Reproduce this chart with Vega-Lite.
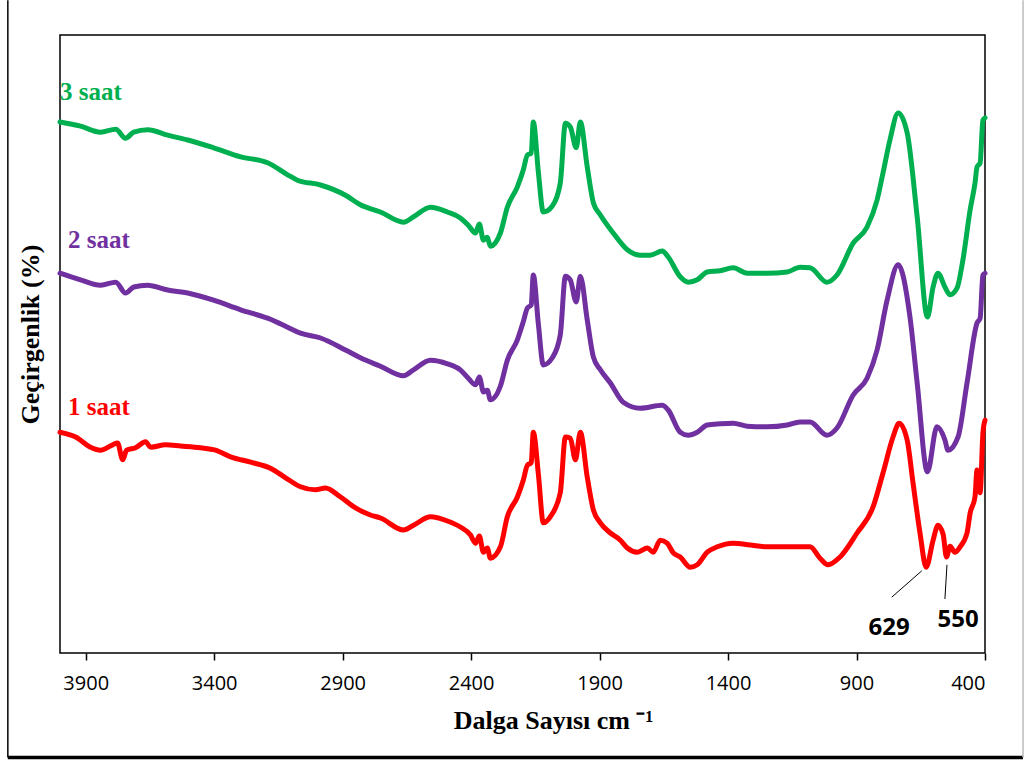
{
  "$schema": "https://vega.github.io/schema/vega-lite/v6.json",
  "width": 925,
  "height": 618,
  "autosize": {"type": "none"},
  "padding": {"left": 60, "top": 35, "right": 40, "bottom": 109},
  "background": "white",
  "config": {"view": {"stroke": "#000000", "strokeWidth": 1.5}},
  "datasets": {
    "spectra": [
      {"series": "1 saat", "w": 4000, "T": 36.8}, {"series": "1 saat", "w": 3939, "T": 36.0}, {"series": "1 saat", "w": 3881, "T": 34.3}, {"series": "1 saat", "w": 3842, "T": 33.8}, {"series": "1 saat", "w": 3795, "T": 34.7}, {"series": "1 saat", "w": 3776, "T": 35.0}, {"series": "1 saat", "w": 3756, "T": 32.2}, {"series": "1 saat", "w": 3741, "T": 33.8}, {"series": "1 saat", "w": 3706, "T": 34.2}, {"series": "1 saat", "w": 3667, "T": 35.2}, {"series": "1 saat", "w": 3647, "T": 34.3}, {"series": "1 saat", "w": 3589, "T": 34.7}, {"series": "1 saat", "w": 3531, "T": 34.5}, {"series": "1 saat", "w": 3453, "T": 34.2}, {"series": "1 saat", "w": 3395, "T": 33.8}, {"series": "1 saat", "w": 3336, "T": 32.7}, {"series": "1 saat", "w": 3258, "T": 31.8}, {"series": "1 saat", "w": 3181, "T": 30.8}, {"series": "1 saat", "w": 3122, "T": 29.2}, {"series": "1 saat", "w": 3064, "T": 27.7}, {"series": "1 saat", "w": 3006, "T": 27.2}, {"series": "1 saat", "w": 2967, "T": 27.5}, {"series": "1 saat", "w": 2908, "T": 26.0}, {"series": "1 saat", "w": 2850, "T": 24.2}, {"series": "1 saat", "w": 2792, "T": 23.0}, {"series": "1 saat", "w": 2753, "T": 22.5}, {"series": "1 saat", "w": 2663, "T": 20.5}, {"series": "1 saat", "w": 2624, "T": 21.3}, {"series": "1 saat", "w": 2558, "T": 22.7}, {"series": "1 saat", "w": 2492, "T": 22.0}, {"series": "1 saat", "w": 2442, "T": 21.0}, {"series": "1 saat", "w": 2403, "T": 19.7}, {"series": "1 saat", "w": 2383, "T": 18.3}, {"series": "1 saat", "w": 2368, "T": 19.5}, {"series": "1 saat", "w": 2352, "T": 16.8}, {"series": "1 saat", "w": 2337, "T": 17.5}, {"series": "1 saat", "w": 2325, "T": 15.8}, {"series": "1 saat", "w": 2286, "T": 17.7}, {"series": "1 saat", "w": 2259, "T": 22.7}, {"series": "1 saat", "w": 2220, "T": 26.0}, {"series": "1 saat", "w": 2197, "T": 28.8}, {"series": "1 saat", "w": 2181, "T": 31.3}, {"series": "1 saat", "w": 2166, "T": 31.7}, {"series": "1 saat", "w": 2158, "T": 36.8}, {"series": "1 saat", "w": 2138, "T": 29.7}, {"series": "1 saat", "w": 2119, "T": 21.7}, {"series": "1 saat", "w": 2092, "T": 22.7}, {"series": "1 saat", "w": 2053, "T": 26.7}, {"series": "1 saat", "w": 2033, "T": 36.0}, {"series": "1 saat", "w": 2014, "T": 35.8}, {"series": "1 saat", "w": 1994, "T": 32.2}, {"series": "1 saat", "w": 1975, "T": 36.8}, {"series": "1 saat", "w": 1948, "T": 29.3}, {"series": "1 saat", "w": 1924, "T": 23.8}, {"series": "1 saat", "w": 1897, "T": 21.7}, {"series": "1 saat", "w": 1858, "T": 20.0}, {"series": "1 saat", "w": 1819, "T": 18.8}, {"series": "1 saat", "w": 1792, "T": 17.5}, {"series": "1 saat", "w": 1753, "T": 16.8}, {"series": "1 saat", "w": 1714, "T": 17.5}, {"series": "1 saat", "w": 1691, "T": 16.8}, {"series": "1 saat", "w": 1664, "T": 18.8}, {"series": "1 saat", "w": 1637, "T": 18.3}, {"series": "1 saat", "w": 1613, "T": 16.7}, {"series": "1 saat", "w": 1586, "T": 16.0}, {"series": "1 saat", "w": 1547, "T": 14.3}, {"series": "1 saat", "w": 1520, "T": 14.7}, {"series": "1 saat", "w": 1481, "T": 16.8}, {"series": "1 saat", "w": 1442, "T": 17.7}, {"series": "1 saat", "w": 1380, "T": 18.3}, {"series": "1 saat", "w": 1314, "T": 18.0}, {"series": "1 saat", "w": 1248, "T": 17.7}, {"series": "1 saat", "w": 1186, "T": 17.7}, {"series": "1 saat", "w": 1120, "T": 17.7}, {"series": "1 saat", "w": 1081, "T": 17.7}, {"series": "1 saat", "w": 1042, "T": 15.8}, {"series": "1 saat", "w": 1011, "T": 14.7}, {"series": "1 saat", "w": 964, "T": 16.0}, {"series": "1 saat", "w": 898, "T": 20.0}, {"series": "1 saat", "w": 836, "T": 24.3}, {"series": "1 saat", "w": 797, "T": 30.0}, {"series": "1 saat", "w": 758, "T": 36.0}, {"series": "1 saat", "w": 734, "T": 38.3}, {"series": "1 saat", "w": 703, "T": 35.5}, {"series": "1 saat", "w": 680, "T": 28.3}, {"series": "1 saat", "w": 653, "T": 20.0}, {"series": "1 saat", "w": 629, "T": 14.3}, {"series": "1 saat", "w": 602, "T": 18.8}, {"series": "1 saat", "w": 583, "T": 21.3}, {"series": "1 saat", "w": 563, "T": 19.8}, {"series": "1 saat", "w": 550, "T": 16.0}, {"series": "1 saat", "w": 536, "T": 17.8}, {"series": "1 saat", "w": 517, "T": 16.8}, {"series": "1 saat", "w": 497, "T": 17.7}, {"series": "1 saat", "w": 470, "T": 20.0}, {"series": "1 saat", "w": 458, "T": 23.3}, {"series": "1 saat", "w": 439, "T": 26.0}, {"series": "1 saat", "w": 431, "T": 30.5}, {"series": "1 saat", "w": 419, "T": 26.7}, {"series": "1 saat", "w": 408, "T": 36.7}, {"series": "1 saat", "w": 400, "T": 38.8},

      {"series": "2 saat", "w": 4000, "T": 63.3}, {"series": "2 saat", "w": 3920, "T": 62.2}, {"series": "2 saat", "w": 3842, "T": 61.3}, {"series": "2 saat", "w": 3783, "T": 61.8}, {"series": "2 saat", "w": 3745, "T": 60.0}, {"series": "2 saat", "w": 3713, "T": 61.0}, {"series": "2 saat", "w": 3659, "T": 61.3}, {"series": "2 saat", "w": 3581, "T": 60.5}, {"series": "2 saat", "w": 3503, "T": 60.0}, {"series": "2 saat", "w": 3402, "T": 58.8}, {"series": "2 saat", "w": 3297, "T": 57.2}, {"series": "2 saat", "w": 3192, "T": 55.8}, {"series": "2 saat", "w": 3114, "T": 54.3}, {"series": "2 saat", "w": 3064, "T": 53.3}, {"series": "2 saat", "w": 2986, "T": 52.5}, {"series": "2 saat", "w": 2889, "T": 50.5}, {"series": "2 saat", "w": 2831, "T": 49.2}, {"series": "2 saat", "w": 2753, "T": 47.8}, {"series": "2 saat", "w": 2663, "T": 46.2}, {"series": "2 saat", "w": 2624, "T": 47.2}, {"series": "2 saat", "w": 2558, "T": 48.8}, {"series": "2 saat", "w": 2492, "T": 48.2}, {"series": "2 saat", "w": 2442, "T": 47.2}, {"series": "2 saat", "w": 2411, "T": 45.8}, {"series": "2 saat", "w": 2383, "T": 44.7}, {"series": "2 saat", "w": 2368, "T": 46.0}, {"series": "2 saat", "w": 2352, "T": 43.5}, {"series": "2 saat", "w": 2337, "T": 43.8}, {"series": "2 saat", "w": 2325, "T": 42.2}, {"series": "2 saat", "w": 2286, "T": 44.5}, {"series": "2 saat", "w": 2259, "T": 48.8}, {"series": "2 saat", "w": 2220, "T": 52.2}, {"series": "2 saat", "w": 2197, "T": 55.2}, {"series": "2 saat", "w": 2181, "T": 57.5}, {"series": "2 saat", "w": 2166, "T": 58.0}, {"series": "2 saat", "w": 2158, "T": 63.0}, {"series": "2 saat", "w": 2138, "T": 54.7}, {"series": "2 saat", "w": 2119, "T": 48.0}, {"series": "2 saat", "w": 2084, "T": 49.2}, {"series": "2 saat", "w": 2053, "T": 53.0}, {"series": "2 saat", "w": 2033, "T": 62.8}, {"series": "2 saat", "w": 2014, "T": 62.2}, {"series": "2 saat", "w": 1991, "T": 58.5}, {"series": "2 saat", "w": 1975, "T": 62.8}, {"series": "2 saat", "w": 1948, "T": 55.5}, {"series": "2 saat", "w": 1924, "T": 49.3}, {"series": "2 saat", "w": 1897, "T": 47.2}, {"series": "2 saat", "w": 1858, "T": 45.0}, {"series": "2 saat", "w": 1808, "T": 41.8}, {"series": "2 saat", "w": 1742, "T": 40.8}, {"series": "2 saat", "w": 1656, "T": 41.3}, {"series": "2 saat", "w": 1633, "T": 40.5}, {"series": "2 saat", "w": 1586, "T": 36.8}, {"series": "2 saat", "w": 1555, "T": 36.3}, {"series": "2 saat", "w": 1520, "T": 36.8}, {"series": "2 saat", "w": 1481, "T": 38.0}, {"series": "2 saat", "w": 1431, "T": 38.2}, {"series": "2 saat", "w": 1380, "T": 38.3}, {"series": "2 saat", "w": 1326, "T": 37.8}, {"series": "2 saat", "w": 1248, "T": 37.7}, {"series": "2 saat", "w": 1170, "T": 38.0}, {"series": "2 saat", "w": 1120, "T": 38.5}, {"series": "2 saat", "w": 1081, "T": 38.5}, {"series": "2 saat", "w": 1015, "T": 36.3}, {"series": "2 saat", "w": 976, "T": 37.5}, {"series": "2 saat", "w": 913, "T": 43.0}, {"series": "2 saat", "w": 859, "T": 45.8}, {"series": "2 saat", "w": 820, "T": 50.5}, {"series": "2 saat", "w": 781, "T": 58.8}, {"series": "2 saat", "w": 738, "T": 64.7}, {"series": "2 saat", "w": 692, "T": 56.0}, {"series": "2 saat", "w": 664, "T": 45.0}, {"series": "2 saat", "w": 624, "T": 30.2}, {"series": "2 saat", "w": 587, "T": 37.7}, {"series": "2 saat", "w": 556, "T": 35.5}, {"series": "2 saat", "w": 544, "T": 33.8}, {"series": "2 saat", "w": 505, "T": 36.0}, {"series": "2 saat", "w": 470, "T": 45.0}, {"series": "2 saat", "w": 431, "T": 55.0}, {"series": "2 saat", "w": 419, "T": 55.8}, {"series": "2 saat", "w": 408, "T": 63.0}, {"series": "2 saat", "w": 400, "T": 63.3},

      {"series": "3 saat", "w": 4000, "T": 88.5}, {"series": "3 saat", "w": 3920, "T": 87.8}, {"series": "3 saat", "w": 3842, "T": 86.8}, {"series": "3 saat", "w": 3783, "T": 87.3}, {"series": "3 saat", "w": 3745, "T": 85.8}, {"series": "3 saat", "w": 3713, "T": 86.8}, {"series": "3 saat", "w": 3659, "T": 87.2}, {"series": "3 saat", "w": 3581, "T": 86.3}, {"series": "3 saat", "w": 3503, "T": 85.5}, {"series": "3 saat", "w": 3402, "T": 84.2}, {"series": "3 saat", "w": 3297, "T": 82.7}, {"series": "3 saat", "w": 3192, "T": 81.7}, {"series": "3 saat", "w": 3114, "T": 79.7}, {"series": "3 saat", "w": 3076, "T": 78.8}, {"series": "3 saat", "w": 2986, "T": 78.0}, {"series": "3 saat", "w": 2889, "T": 76.3}, {"series": "3 saat", "w": 2831, "T": 74.7}, {"series": "3 saat", "w": 2753, "T": 73.5}, {"series": "3 saat", "w": 2663, "T": 71.8}, {"series": "3 saat", "w": 2624, "T": 72.7}, {"series": "3 saat", "w": 2558, "T": 74.3}, {"series": "3 saat", "w": 2492, "T": 73.5}, {"series": "3 saat", "w": 2442, "T": 72.5}, {"series": "3 saat", "w": 2411, "T": 71.3}, {"series": "3 saat", "w": 2383, "T": 70.0}, {"series": "3 saat", "w": 2368, "T": 71.5}, {"series": "3 saat", "w": 2352, "T": 68.8}, {"series": "3 saat", "w": 2337, "T": 69.3}, {"series": "3 saat", "w": 2325, "T": 67.8}, {"series": "3 saat", "w": 2286, "T": 70.0}, {"series": "3 saat", "w": 2259, "T": 74.3}, {"series": "3 saat", "w": 2220, "T": 77.7}, {"series": "3 saat", "w": 2197, "T": 80.5}, {"series": "3 saat", "w": 2181, "T": 83.0}, {"series": "3 saat", "w": 2166, "T": 83.3}, {"series": "3 saat", "w": 2158, "T": 88.5}, {"series": "3 saat", "w": 2138, "T": 80.0}, {"series": "3 saat", "w": 2119, "T": 73.5}, {"series": "3 saat", "w": 2084, "T": 74.5}, {"series": "3 saat", "w": 2053, "T": 78.3}, {"series": "3 saat", "w": 2033, "T": 88.3}, {"series": "3 saat", "w": 2014, "T": 87.7}, {"series": "3 saat", "w": 1991, "T": 84.2}, {"series": "3 saat", "w": 1975, "T": 88.5}, {"series": "3 saat", "w": 1948, "T": 81.0}, {"series": "3 saat", "w": 1924, "T": 75.0}, {"series": "3 saat", "w": 1897, "T": 73.0}, {"series": "3 saat", "w": 1847, "T": 70.0}, {"series": "3 saat", "w": 1792, "T": 67.2}, {"series": "3 saat", "w": 1742, "T": 66.3}, {"series": "3 saat", "w": 1703, "T": 66.3}, {"series": "3 saat", "w": 1656, "T": 67.0}, {"series": "3 saat", "w": 1633, "T": 66.0}, {"series": "3 saat", "w": 1586, "T": 62.7}, {"series": "3 saat", "w": 1555, "T": 61.8}, {"series": "3 saat", "w": 1520, "T": 62.2}, {"series": "3 saat", "w": 1481, "T": 63.5}, {"series": "3 saat", "w": 1431, "T": 63.7}, {"series": "3 saat", "w": 1380, "T": 64.2}, {"series": "3 saat", "w": 1326, "T": 63.3}, {"series": "3 saat", "w": 1248, "T": 63.3}, {"series": "3 saat", "w": 1170, "T": 63.5}, {"series": "3 saat", "w": 1120, "T": 64.3}, {"series": "3 saat", "w": 1081, "T": 64.2}, {"series": "3 saat", "w": 1015, "T": 61.8}, {"series": "3 saat", "w": 976, "T": 63.0}, {"series": "3 saat", "w": 913, "T": 68.3}, {"series": "3 saat", "w": 859, "T": 71.0}, {"series": "3 saat", "w": 820, "T": 75.5}, {"series": "3 saat", "w": 797, "T": 80.0}, {"series": "3 saat", "w": 770, "T": 85.5}, {"series": "3 saat", "w": 738, "T": 90.0}, {"series": "3 saat", "w": 703, "T": 86.7}, {"series": "3 saat", "w": 664, "T": 72.7}, {"series": "3 saat", "w": 624, "T": 56.0}, {"series": "3 saat", "w": 602, "T": 61.0}, {"series": "3 saat", "w": 583, "T": 63.3}, {"series": "3 saat", "w": 556, "T": 61.0}, {"series": "3 saat", "w": 536, "T": 59.7}, {"series": "3 saat", "w": 509, "T": 60.8}, {"series": "3 saat", "w": 486, "T": 65.5}, {"series": "3 saat", "w": 458, "T": 73.8}, {"series": "3 saat", "w": 439, "T": 78.3}, {"series": "3 saat", "w": 431, "T": 81.0}, {"series": "3 saat", "w": 419, "T": 81.7}, {"series": "3 saat", "w": 408, "T": 88.8}, {"series": "3 saat", "w": 400, "T": 89.2}
    ],
    "single": [{}]
  },
  "layer": [
    {
      "data": {"name": "spectra"},
      "mark": {"type": "line", "strokeWidth": 5, "interpolate": "monotone", "strokeJoin": "round", "strokeCap": "round"},
      "encoding": {
        "x": {
          "field": "w", "type": "quantitative",
          "scale": {"domain": [400, 4000], "reverse": true, "nice": false, "zero": false},
          "axis": {
            "title": "Dalga Sayısı cm ⁻¹",
            "values": [3900, 3400, 2900, 2400, 1900, 1400, 900, 400],
            "format": "d",
            "domain": false, "grid": false,
            "tickColor": "#000000", "tickSize": 7, "tickWidth": 1.5,
            "labelFont": "Open Sans", "labelFontSize": 20, "labelColor": "#000000", "labelPadding": 13,
            "titleFont": "Liberation Serif", "titleFontSize": 26, "titleFontWeight": "bold", "titleColor": "#000000",
            "titleX": 493, "titleY": 75, "titleAlign": "center", "titleBaseline": "alphabetic"
          }
        },
        "y": {
          "field": "T", "type": "quantitative",
          "scale": {"domain": [0, 103], "nice": false, "zero": false},
          "axis": {
            "title": "Geçirgenlik (%)",
            "labels": false, "ticks": false, "domain": false, "grid": false,
            "titleFont": "Liberation Serif", "titleFontSize": 26, "titleFontWeight": "bold", "titleColor": "#000000",
            "titleX": -30, "titleY": 299, "titleAngle": -90, "titleAlign": "center", "titleBaseline": "middle"
          }
        },
        "color": {
          "field": "series", "type": "nominal",
          "scale": {"domain": ["1 saat", "2 saat", "3 saat"], "range": ["#FF0000", "#7030A0", "#00B050"]},
          "legend": null
        }
      }
    },
    {
      "data": {"name": "spectra"},
      "transform": [{"filter": "datum.w === 4000 && datum.series === '3 saat'"}],
      "mark": {"type": "text", "align": "left", "baseline": "middle", "dx": 0, "dy": -30, "font": "Liberation Serif", "fontSize": 25, "fontWeight": "bold", "color": "#00B050"},
      "encoding": {"x": {"field": "w", "type": "quantitative"}, "y": {"field": "T", "type": "quantitative"}, "text": {"field": "series"}}
    },
    {
      "data": {"name": "spectra"},
      "transform": [{"filter": "datum.w === 4000 && datum.series === '2 saat'"}],
      "mark": {"type": "text", "align": "left", "baseline": "middle", "dx": 8, "dy": -33, "font": "Liberation Serif", "fontSize": 25, "fontWeight": "bold", "color": "#7030A0"},
      "encoding": {"x": {"field": "w", "type": "quantitative"}, "y": {"field": "T", "type": "quantitative"}, "text": {"field": "series"}}
    },
    {
      "data": {"name": "spectra"},
      "transform": [{"filter": "datum.w === 4000 && datum.series === '1 saat'"}],
      "mark": {"type": "text", "align": "left", "baseline": "middle", "dx": 8, "dy": -25, "font": "Liberation Serif", "fontSize": 25, "fontWeight": "bold", "color": "#FF0000"},
      "encoding": {"x": {"field": "w", "type": "quantitative"}, "y": {"field": "T", "type": "quantitative"}, "text": {"field": "series"}}
    },
    {
      "data": {"name": "single"},
      "mark": {"type": "rule", "color": "#000000", "strokeWidth": 1},
      "encoding": {"x": {"datum": 646}, "y": {"datum": 13.7}, "x2": {"datum": 763}, "y2": {"datum": 9.3}}
    },
    {
      "data": {"name": "single"},
      "mark": {"type": "rule", "color": "#000000", "strokeWidth": 1},
      "encoding": {"x": {"datum": 548}, "y": {"datum": 14.7}, "x2": {"datum": 556}, "y2": {"datum": 9.0}}
    },
    {
      "data": {"name": "single"},
      "mark": {"type": "text", "align": "center", "baseline": "middle", "font": "Open Sans", "fontSize": 24, "fontWeight": "bold", "color": "#000000", "text": "629"},
      "encoding": {"x": {"datum": 773}, "y": {"datum": 4.2}}
    },
    {
      "data": {"name": "single"},
      "mark": {"type": "text", "align": "center", "baseline": "middle", "font": "Open Sans", "fontSize": 24, "fontWeight": "bold", "color": "#000000", "text": "550"},
      "encoding": {"x": {"datum": 505}, "y": {"datum": 5.5}}
    },
    {
      "data": {"name": "single"},
      "mark": {"type": "rule", "color": "#000000", "strokeWidth": 1.5, "clip": false},
      "encoding": {"x": {"datum": 4203}, "y": {"datum": 108.8}, "y2": {"datum": -17.4}}
    },
    {
      "data": {"name": "single"},
      "mark": {"type": "rule", "color": "#000000", "strokeWidth": 3.5, "clip": false},
      "encoding": {"x": {"datum": 4203}, "x2": {"datum": 252}, "y": {"datum": -17.4}}
    },
    {
      "data": {"name": "single"},
      "mark": {"type": "rule", "color": "#BBBBBB", "strokeWidth": 1.5, "clip": false},
      "encoding": {"x": {"datum": 252}, "y": {"datum": 108.8}, "y2": {"datum": -17.4}}
    }
  ]
}
